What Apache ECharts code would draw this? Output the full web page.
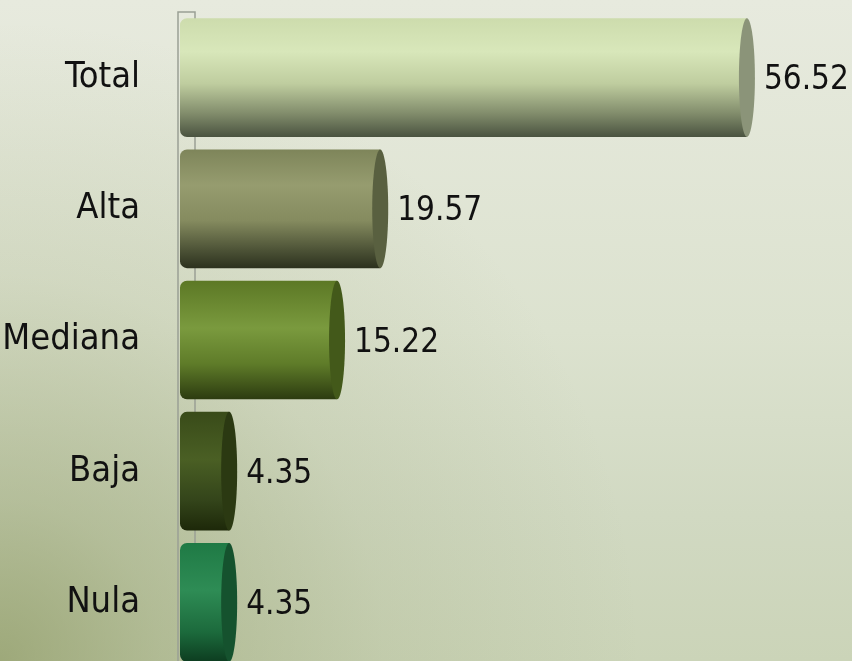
<!DOCTYPE html>
<html>
<head>
<meta charset="utf-8">
<script src="https://cdn.jsdelivr.net/npm/echarts@6/dist/echarts.min.js"></script>
<style>html,body{margin:0;padding:0;}#c{width:852px;height:661px;}</style>
</head>
<body>
<div id="c"></div>
<script>
const categories = ['Total', 'Alta', 'Mediana', 'Baja', 'Nula'];
const values = [56.52, 19.57, 15.22, 4.35, 4.35];

const bodyStops = [
  [['#cddcad',0],['#d8e7ba',0.28],['#bfcd9f',0.55],['#828d6c',0.8],['#4a5340',1]],
  [['#7e855a',0],['#969c6f',0.3],['#858b5f',0.6],['#4c5236',0.85],['#2c311e',1]],
  [['#5c7825',0],['#7a9a3e',0.4],['#5f7c29',0.7],['#2c3b10',1]],
  [['#394b19',0],['#4a5f24',0.4],['#33441a',0.75],['#1d2809',1]],
  [['#1f7a45',0],['#2e8c55',0.4],['#1c6a3c',0.75],['#0d3d20',1]]
];
const capColors = ['#8b9479', '#596040', '#43591a', '#2b3912', '#15522e'];

const FONT = '"Liberation Sans Narrow", "DejaVu Sans Condensed", "Liberation Sans", sans-serif';

const chart = echarts.init(document.getElementById('c'));
chart.setOption({
  backgroundColor: new echarts.graphic.LinearGradient(0, 0, 0, 1, [
    {offset: 0, color: '#e7eade'},
    {offset: 0.5, color: '#dce2cf'},
    {offset: 0.78, color: '#d1d9c2'},
    {offset: 1, color: '#cbd4b8'}
  ]),
  animation: false,
  grid: {left: 186, right: 11, top: 12, bottom: -7, outerBoundsMode: 'none', containLabel: false},
  xAxis: {type: 'value', min: 0, max: 66, show: false},
  yAxis: {
    type: 'category', inverse: true, data: categories,
    axisLine: {show: false},
    axisTick: {show: false},
    axisLabel: {fontSize: 36, color: '#111', fontFamily: FONT, margin: 46}
  },
  graphic: [{
    type: 'rect', z: -10, silent: true,
    shape: {x: 0, y: 0, width: 852, height: 661},
    style: {fill: new echarts.graphic.RadialGradient(0, 661, 640, [
      {offset: 0, color: 'rgba(140,152,98,0.72)'},
      {offset: 0.25, color: 'rgba(140,152,98,0.42)'},
      {offset: 0.6, color: 'rgba(140,152,98,0.15)'},
      {offset: 1, color: 'rgba(140,152,98,0)'}
    ], true)}
  }, {
    type: 'polyline', z: 1, silent: true,
    shape: {points: [[178, 661], [178, 12], [195, 12], [195, 661]]},
    style: {stroke: '#9aa095', lineWidth: 1.5, fill: null}
  }],
  series: [{
    type: 'custom',
    z: 5,
    data: values.map((v, i) => [v, i]),
    encode: {x: 0, y: 1},
    renderItem: function (params, api) {
      const i = params.dataIndex;
      const v = api.value(0);
      const end = api.coord([v, api.value(1)]);
      const start = api.coord([0, api.value(1)]);
      const band = api.size([0, 1])[1];
      const h = band * 0.905;
      const x0 = start[0] - 6;
      const y0 = end[1] - h / 2;
      const grad = new echarts.graphic.LinearGradient(0, 0, 0, 1,
        bodyStops[i].map(s => ({color: s[0], offset: s[1]})));
      return {
        type: 'group',
        children: [
          {type: 'rect', shape: {x: x0, y: y0, width: end[0] - x0, height: h, r: [7, 0, 0, 7]}, style: {fill: grad}},
          {type: 'ellipse', shape: {cx: end[0], cy: end[1], rx: 8, ry: h / 2}, style: {fill: capColors[i]}},
          {type: 'text', style: {text: v.toFixed(2), x: end[0] + 17, y: end[1] + 3,
            verticalAlign: 'middle', align: 'left', fontSize: 33, fontFamily: FONT, fill: '#111'}}
        ]
      };
    }
  }]
});
</script>
</body>
</html>
